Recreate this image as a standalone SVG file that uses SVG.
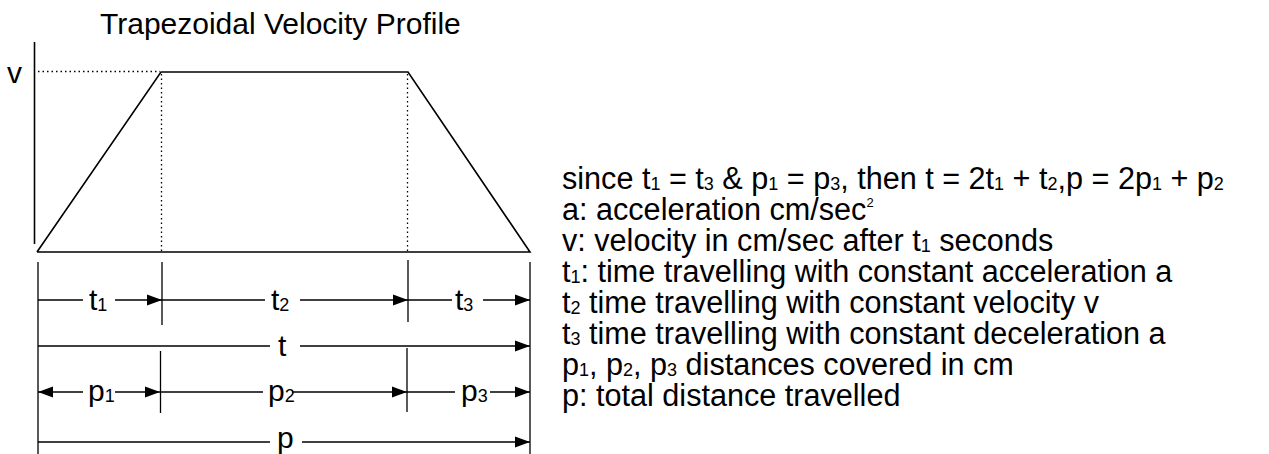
<svg xmlns="http://www.w3.org/2000/svg" width="1269" height="454" viewBox="0 0 1269 454">
<style>
text{font-family:"Liberation Sans",Arial,sans-serif;font-size:30px;fill:#000}
.lg{font-size:30.6px}
.sub{font-size:18px}
.sup{font-size:13px}
.ln{stroke:#000;stroke-width:1.6;fill:none}
.dim{stroke:#000;stroke-width:1.3;fill:none}
.dot{stroke:#000;stroke-width:1.3;stroke-dasharray:1.5 3;fill:none}
</style>
<defs>
<marker id="ah" markerWidth="16" markerHeight="12" refX="15" refY="6" orient="auto" markerUnits="userSpaceOnUse">
<path d="M0,0.5 L15,6 L0,11.5 Z" fill="#000"/>
</marker>
</defs>
<rect width="1269" height="454" fill="#fff"/>
<g id="title"><text x="100" y="34" font-size="28.5">Trapezoidal Velocity Profile</text></g>
<g id="profile">
<line class="ln" x1="34.5" y1="42" x2="34.5" y2="244"/>
<text x="7" y="83">v</text>
<line class="dot" x1="38" y1="71.5" x2="160" y2="71.5"/>
<line class="dot" x1="161.5" y1="74" x2="161.5" y2="252"/>
<line class="dot" x1="407.5" y1="74" x2="407.5" y2="252"/>
<polyline class="ln" points="37,252 161,72 408,72 530,252 37,252"/>
</g>
<g id="extension-lines">
<line class="dim" x1="38" y1="262" x2="38" y2="454"/>
<line class="dim" x1="530" y1="262" x2="530" y2="454"/>
<line class="dim" x1="162" y1="262" x2="162" y2="325"/>
<line class="dim" x1="408" y1="260" x2="408" y2="322"/>
<line class="dim" x1="160.5" y1="351" x2="160.5" y2="413"/>
<line class="dim" x1="407" y1="348" x2="407" y2="412"/>
</g>
<g id="connectors">
<line class="dim" x1="38" y1="300" x2="83" y2="300"/>
<line class="dim" x1="115" y1="300" x2="162" y2="300" marker-end="url(#ah)"/>
<line class="dim" x1="162" y1="300" x2="265" y2="300"/>
<line class="dim" x1="300" y1="300" x2="408" y2="300" marker-end="url(#ah)"/>
<line class="dim" x1="408" y1="300" x2="452" y2="300"/>
<line class="dim" x1="483" y1="300" x2="530" y2="300" marker-end="url(#ah)"/>
<line class="dim" x1="38" y1="346" x2="270" y2="346"/>
<line class="dim" x1="300" y1="346" x2="530" y2="346" marker-end="url(#ah)"/>
<line class="dim" x1="83" y1="392" x2="38" y2="392" marker-end="url(#ah)"/>
<line class="dim" x1="115" y1="392" x2="160" y2="392" marker-end="url(#ah)"/>
<line class="dim" x1="160" y1="392" x2="263" y2="392"/>
<line class="dim" x1="292" y1="392" x2="407" y2="392" marker-end="url(#ah)"/>
<line class="dim" x1="407" y1="392" x2="455" y2="392"/>
<line class="dim" x1="490" y1="392" x2="530" y2="392" marker-end="url(#ah)"/>
<line class="dim" x1="38" y1="442" x2="270" y2="442"/>
<line class="dim" x1="302" y1="442" x2="530" y2="442" marker-end="url(#ah)"/>
</g>
<g id="dim-labels">
<text x="89" y="310">t<tspan class="sub" dy="1">1</tspan></text>
<text x="271" y="310">t<tspan class="sub" dy="1">2</tspan></text>
<text x="455" y="310">t<tspan class="sub" dy="1">3</tspan></text>
<text x="278" y="356">t</text>
<text x="88" y="401">p<tspan class="sub" dy="1">1</tspan></text>
<text x="268" y="401">p<tspan class="sub" dy="1">2</tspan></text>
<text x="461" y="401">p<tspan class="sub" dy="1">3</tspan></text>
<text x="277" y="448">p</text>
</g>
<g id="legend" class="lg">
<text class="lg" x="562" y="189">since t<tspan class="sub" dy="1">1</tspan><tspan dy="-1"> = t</tspan><tspan class="sub" dy="1">3</tspan><tspan dy="-1"> &amp; p</tspan><tspan class="sub" dy="1">1</tspan><tspan dy="-1"> = p</tspan><tspan class="sub" dy="1">3</tspan><tspan dy="-1">, then t = 2t</tspan><tspan class="sub" dy="1">1</tspan><tspan dy="-1"> + t</tspan><tspan class="sub" dy="1">2</tspan><tspan dy="-1">,p = 2p</tspan><tspan class="sub" dy="1">1</tspan><tspan dy="-1"> + p</tspan><tspan class="sub" dy="1">2</tspan></text>
<text class="lg" x="562" y="220">a: acceleration cm/sec<tspan class="sup" dy="-13">2</tspan></text>
<text class="lg" x="562" y="251">v: velocity in cm/sec after t<tspan class="sub" dy="1">1</tspan><tspan dy="-1"> seconds</tspan></text>
<text class="lg" x="562" y="282">t<tspan class="sub" dy="1">1</tspan><tspan dy="-1">: time travelling with constant acceleration a</tspan></text>
<text class="lg" x="562" y="313">t<tspan class="sub" dy="1">2</tspan><tspan dy="-1"> time travelling with constant velocity v</tspan></text>
<text class="lg" x="562" y="344">t<tspan class="sub" dy="1">3</tspan><tspan dy="-1"> time travelling with constant deceleration a</tspan></text>
<text class="lg" x="562" y="375">p<tspan class="sub" dy="1">1</tspan><tspan dy="-1">, p</tspan><tspan class="sub" dy="1">2</tspan><tspan dy="-1">, p</tspan><tspan class="sub" dy="1">3</tspan><tspan dy="-1"> distances covered in cm</tspan></text>
<text class="lg" x="562" y="406">p: total distance travelled</text>
</g>
</svg>
